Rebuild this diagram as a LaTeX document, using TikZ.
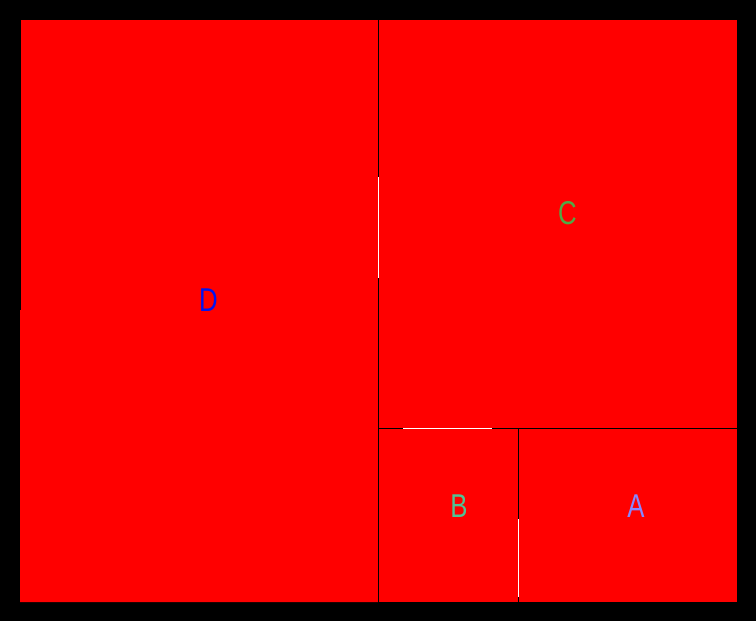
\documentclass[tikz,border=0pt]{standalone}
\usepackage{fontspec}
\setmainfont[FakeStretch=0.78]{Liberation Sans}
\definecolor{redfill}{RGB}{255,0,0}
\definecolor{dcol}{RGB}{0,20,240}
\definecolor{ccol}{RGB}{80,170,70}
\definecolor{bcol}{RGB}{80,195,150}
\definecolor{acol}{RGB}{135,135,255}
\begin{document}
\begin{tikzpicture}[x=1pt,y=-1pt,
  cell/.style={fill=redfill},
  sep/.style={black,line width=1pt},
  gap/.style={white,line width=1pt},
  lab/.style={font=\fontsize{33}{33}\selectfont,inner sep=0pt,anchor=center}]
\useasboundingbox (0,0) rectangle (756,621);
\fill[black] (0,0) rectangle (756,621);
% cells
\fill[cell] (21,20) -- (378,20) -- (378,602) -- (20,602) -- (20,310) -- (21,310) -- cycle;
\fill[cell] (378,20) rectangle (737,428);
\fill[cell] (378,428) rectangle (518,602);
\fill[cell] (518,428) rectangle (737,602);
% separators
\draw[sep] (378.5,20) -- (378.5,602);
\draw[sep] (378,428.5) -- (737,428.5);
\draw[sep] (518.5,428) -- (518.5,602);
% white gaps
\draw[gap] (378.5,177) -- (378.5,278);
\draw[gap] (403,428.5) -- (492,428.5);
\draw[gap] (518.5,519) -- (518.5,597);
% labels
\node[lab,text=dcol] (D) at (208.5,300) {D};
\node[lab,text=ccol] (C) at (567.5,213) {C};
\node[lab,text=bcol] (B) at (459,506) {B};
\node[lab,text=acol] (A) at (636,506) {A};
\end{tikzpicture}
\end{document}
